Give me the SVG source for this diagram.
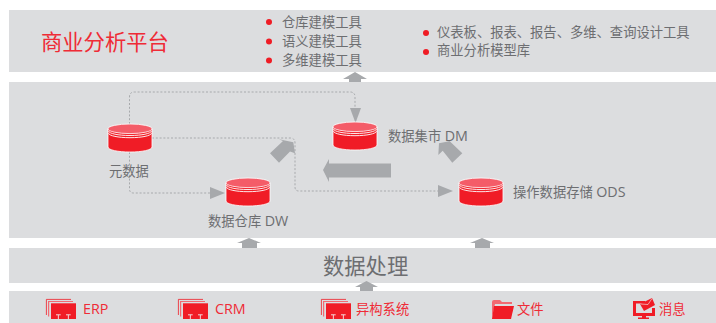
<svg xmlns="http://www.w3.org/2000/svg" width="716" height="323" viewBox="0 0 716 323">
<style>
text{font-family:"Open Sans","Noto Sans CJK SC","Noto Sans",sans-serif;fill:#6d6e71;font-size:13.3px}
tspan{font-size:14.300px}
.panel{fill:#dcdddf}
text.r{fill:#ef2b36}
.dot{fill:#ef1c25}
.arrow{fill:#a7a9ac}
.link{fill:none;stroke:#a7a9ac;stroke-width:1;stroke-dasharray:2 1.800}
</style>
<defs>
<g id="cyl">
<path d="M0 5V23C0 26 10 28 22 28S44 26 44 23V5Z" fill="#f01c26" stroke="#fff" stroke-width="0.8"/>
<ellipse cx="22" cy="4.800" rx="22" ry="4.800" fill="#f45c68" stroke="#fff" stroke-width="0.8"/>
<path d="M0.500 7C1 9.500 10 11.500 22 11.500S43 9.500 43.500 7M0.500 9.200C1 11.700 10 13.700 22 13.700S43 11.700 43.500 9.200" fill="none" stroke="#fff" stroke-width="0.9"/>
</g>
<g id="sys">
<path d="M0.400 16V0.400H25" fill="none" stroke="#f01c26" stroke-width="0.8"/>
<path d="M2.600 17.500V2.500H27" fill="none" stroke="#f26a72" stroke-width="1.200"/>
<rect x="5" y="4.300" width="25" height="15.700" fill="#f01c26"/>
<path d="M10 15.800H14.700M12.350 15.800V20M20 15.800H24.700M22.350 15.800V20" fill="none" stroke="#f3d5d7" stroke-width="1"/>
</g>
</defs>
<g id="panels">
<rect class="panel" x="9" y="10" width="707" height="62"/>
<rect class="panel" x="9" y="82" width="707" height="156"/>
<rect class="panel" x="9" y="248" width="707" height="35"/>
<rect class="panel" x="9" y="291" width="707" height="32"/>
</g>
<g id="connectors">
<path class="link" d="M129.500 124V97Q129.500 92 134.500 92H350Q355 92 355 97V109"/>
<path class="link" d="M152 138H290Q295 138 295 143V187Q295 191 299 191H439"/>
<path class="link" d="M129.500 152V189Q129.500 193 133.500 193H211"/>
<polygon class="arrow" points="350,108 361,108 355.500,123"/>
<polygon class="arrow" points="438,185 438,197 453,191"/>
<polygon class="arrow" points="210,187 210,199 225,193"/>
<polygon class="arrow" points="355,72 343,79 349,79 349,82 361,82 361,79 367,79"/>
<polygon class="arrow" points="249,238 237,243 242,243 242,248 257,248 257,243 261,243"/>
<polygon class="arrow" points="482,238 470,243 475,243 475,248 490,248 490,243 494,243"/>
<polygon class="arrow" points="366.500,281 355,287 360,287 360,291 373,291 373,287 378,287"/>
<polygon class="arrow" points="323,170 329,159 329,163.500 391,163.500 391,177.500 329,177.500 329,182"/>
<polygon class="arrow" points="270,153.300 283,141 279,139.300 293.300,142.300 295,153.300 290,151.500 279,162.700"/>
<polygon class="arrow" points="462.300,153.300 449.500,141 446.700,141.700 439,143.300 438.300,155 442.700,150.700 452.300,162.700"/>
</g>
<g id="platform">
<text class="r" x="41" y="50" style="font-size:21.300px">商业分析平台</text>
<circle class="dot" cx="269" cy="22" r="3"/><text x="282" y="27">仓库建模工具</text>
<circle class="dot" cx="269" cy="41.500" r="3"/><text x="282" y="46">语义建模工具</text>
<circle class="dot" cx="269" cy="60.500" r="3"/><text x="282" y="65">多维建模工具</text>
<circle class="dot" cx="426" cy="33" r="3"/><text x="437" y="37">仪表板、报表、报告、多维、查询设计工具</text>
<circle class="dot" cx="426" cy="52" r="3"/><text x="437" y="55">商业分析模型库</text>
</g>
<g id="metadata"><use href="#cyl" x="108" y="124"/><text x="109" y="176">元数据</text></g>
<g id="dw"><use href="#cyl" x="226" y="178"/><text x="208" y="226">数据仓库 <tspan>DW</tspan></text></g>
<g id="dm"><use href="#cyl" x="333" y="122"/><text x="388" y="141">数据集市 <tspan>DM</tspan></text></g>
<g id="ods"><use href="#cyl" x="459" y="178"/><text x="513" y="197">操作数据存储 <tspan>ODS</tspan></text></g>
<g id="processing"><text x="323" y="274" style="font-size:21.300px">数据处理</text></g>
<g id="erp"><use href="#sys" x="46" y="299"/><text class="r" x="83" y="314"><tspan>ERP</tspan></text></g>
<g id="crm"><use href="#sys" x="178" y="299"/><text class="r" x="215" y="314"><tspan>CRM</tspan></text></g>
<g id="hetero"><use href="#sys" x="321" y="299"/><text class="r" x="356" y="314">异构系统</text></g>
<g id="file">
<path d="M492 318V302Q492 300 494 300H500L502 302H512V304H495Z" fill="#f26a72"/>
<path d="M494 306H514L511 319H492Z" fill="#f01c26"/>
<text class="r" x="517" y="314">文件</text>
</g>
<g id="message">
<path d="M633 301H645V303.500H636V313H652V308H655V316H646V317.500H649V319H638V317.500H642V316H633Z" fill="#f01c26"/>
<polygon points="640,304 652,298 655,305 644,311" fill="#f01c26"/>
<path d="M640.500 304L648 304.500L652 298.500" fill="none" stroke="#f3d5d7" stroke-width="0.7"/>
<text class="r" x="659" y="314">消息</text>
</g>
</svg>
